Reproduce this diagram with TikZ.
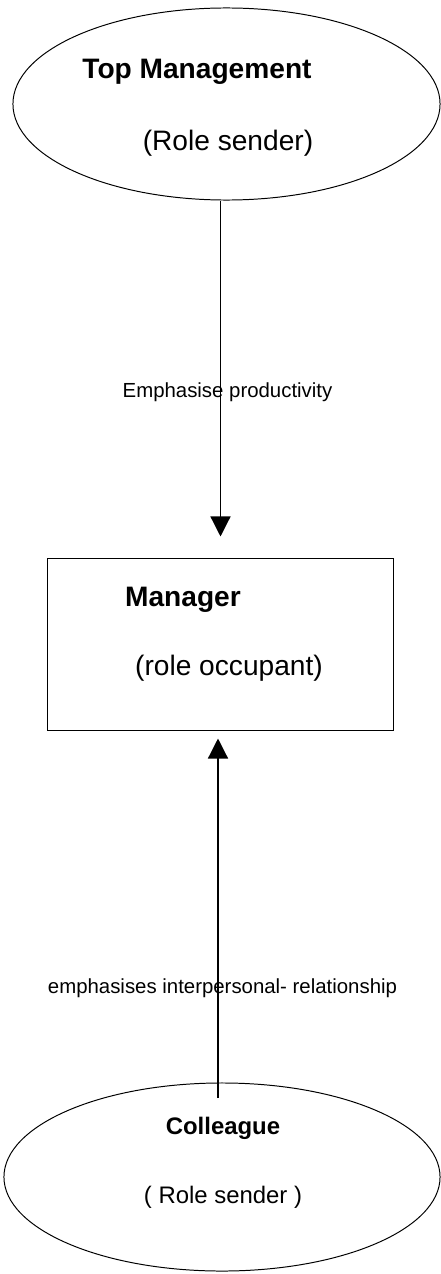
\documentclass[tikz,border=0pt]{standalone}
\usepackage{fontspec}
\setmainfont{Liberation Sans}
\usetikzlibrary{arrows.meta}
\usetikzlibrary{shapes.geometric}

\tikzset{
  rolle/.style={draw, ellipse, line width=0.7pt, inner sep=0pt},
  titel/.style={font=\fontsize{20}{24}\selectfont\bfseries, inner sep=0pt},
  untertitel/.style={font=\fontsize{20}{24}\selectfont, inner sep=0pt},
  beschr/.style={font=\fontsize{14.5}{17}\selectfont, inner sep=0pt},
  pfeil/.style={line width=0.9pt, -{Triangle[width=0.5cm,length=0.5cm]}}
}

\begin{document}
\begin{tikzpicture}[x=0.025cm,y=-0.025cm]
        \useasboundingbox (0,0) rectangle (440,1274);

        \node[rolle, minimum width=10.675cm, minimum height=4.8cm] (top) at (226.5,104) {};
        \node[draw, line width=0.7pt, minimum width=8.625cm, minimum height=4.275cm] (mgr) at (220.5,644.5) {};
        \node[rolle, minimum width=10.9cm, minimum height=4.7cm] (coll) at (222,1177) {};

        \node[titel] (toptxt) at (197,72) {Top Management};
        \node[untertitel] (topsub) at (228,143) {(Role sender)};
        \node[titel] (mgrtxt) at (183,600) {Manager};
        \node[untertitel] (mgrsub) at (229,668) {(role occupant)};
        \node[titel, font=\fontsize{17}{20}\selectfont\bfseries] (colltxt) at (223,1128) {Colleague};
        \node[untertitel, font=\fontsize{17}{20}\selectfont] (collsub) at (223,1197) {( Role sender )};

        \coordinate (cstart) at (218,1098);

        \draw[pfeil, shorten >=0.55cm] (top.south -| mgr.north) -- (mgr.north);
        \draw[pfeil, shorten >=0.2cm] (cstart) -- (cstart |- mgr.south);

        \node[beschr] (lab1) at (227.5,392) {Emphasise productivity};
        \node[beschr] (lab2) at (222.5,988) {emphasises interpersonal- relationship};
    \end{tikzpicture}
\end{document}
